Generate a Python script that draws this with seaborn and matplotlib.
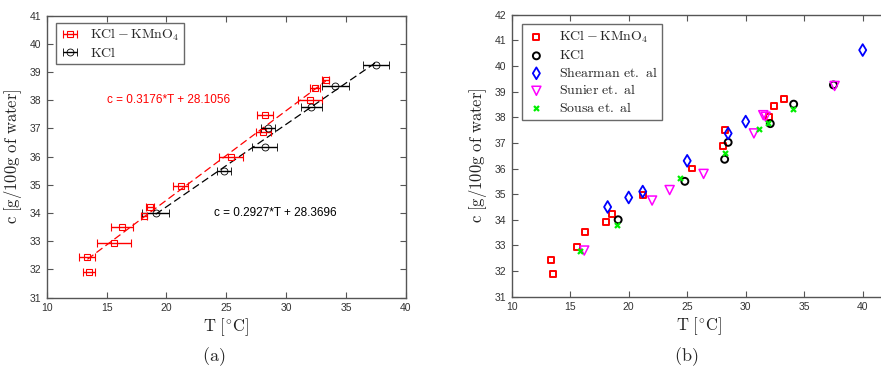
import numpy as np
import pandas as pd
import matplotlib
matplotlib.use("Agg")
import matplotlib.pyplot as plt
import seaborn as sns

# Solubility measurements: KCl in KMnO4 solution and pure KCl
kmno4_T = [13.4, 13.5, 15.6, 16.3, 18.1, 18.6, 21.2, 25.4, 28.1, 28.2, 32.0, 32.4, 33.3]
kmno4_c = [32.43, 31.90, 32.95, 33.52, 33.90, 34.22, 34.95, 36.00, 36.86, 37.49, 38.00, 38.42, 38.72]
kmno4_err = [0.67, 0.50, 1.40, 0.90, 0.25, 0.32, 0.63, 1.00, 0.60, 0.67, 1.00, 0.42, 0.28]

kcl_T = [19.1, 24.8, 28.2, 28.5, 32.1, 34.1, 37.5]
kcl_c = [34.00, 35.50, 36.36, 37.02, 37.75, 38.51, 39.26]
kcl_err = [1.10, 0.60, 1.07, 0.58, 0.86, 1.15, 1.08]

# Linear fits c = a*T + b
fit_kmno4 = (0.3176, 28.1056)
fit_kcl = (0.2927, 28.3696)

# Literature data
shearman_T = [18.2, 20.0, 21.2, 25.0, 28.5, 30.0, 40.0]
shearman_c = [34.50, 34.87, 35.10, 36.30, 37.37, 37.83, 40.62]

sunier_T = [16.2, 22.0, 23.5, 26.4, 30.7, 31.5, 31.7, 37.6]
sunier_c = [32.80, 34.75, 35.16, 35.79, 37.37, 38.08, 38.02, 39.22]

sousa_T = [15.85, 18.97, 24.35, 28.23, 31.13, 31.88, 34.07]
sousa_c = [32.80, 33.80, 35.62, 36.62, 37.54, 37.76, 38.31]

sns.set_theme(style="white")
plt.rcParams["font.family"] = ["Liberation Sans", "DejaVu Sans"]
plt.rcParams["mathtext.fontset"] = "cm"

RED, BLACK, BLUE, MAG, GREEN = "#ff0000", "#000000", "#0000ff", "#ff00ff", "#00ee00"
SPINE = "#555555"

fig = plt.figure(figsize=(8.81, 3.73), dpi=100)
ax1 = fig.add_axes([0.0530, 0.2019, 0.4078, 0.7560])
ax2 = fig.add_axes([0.5808, 0.2046, 0.4250, 0.7560])


def style_axes(ax, xlim, ylim, yticks, right=True):
    ax.set_xlim(*xlim)
    ax.set_ylim(*ylim)
    ax.set_xticks([10, 15, 20, 25, 30, 35, 40])
    ax.set_yticks(yticks)
    ax.tick_params(direction="in", length=4, width=0.8, colors=SPINE,
                   labelcolor="#333333", labelsize=7.5, top=True, right=right,
                   bottom=True, left=True, pad=4)
    for s in ax.spines.values():
        s.set_color(SPINE)
        s.set_linewidth(1.0)
    ax.set_xlabel(r"$\mathrm{T\ [^{\circ}C]}$", fontsize=12, color="#222222", labelpad=2)
    ax.set_ylabel(r"$\mathrm{c\ [g/100g\ of\ water]}$", fontsize=12, color="#222222", labelpad=4)


# (a) measurements with error bars and linear fits
ax1.errorbar(kmno4_T, kmno4_c, xerr=kmno4_err, fmt="s", color=RED, mfc="none",
             ms=4.5, mew=0.8, elinewidth=1.0, capsize=3, capthick=1.0,
             label=r"$\mathrm{KCl - KMnO_4}$", zorder=3)
ax1.errorbar(kcl_T, kcl_c, xerr=kcl_err, fmt="o", color=BLACK, mfc="none",
             ms=5, mew=0.6, elinewidth=1.0, capsize=3, capthick=1.0,
             label=r"$\mathrm{KCl}$", zorder=3)

fit_df1 = pd.DataFrame({"T": [min(kmno4_T), max(kmno4_T)]})
fit_df1["c"] = fit_kmno4[0] * fit_df1["T"] + fit_kmno4[1]
fit_df2 = pd.DataFrame({"T": [min(kcl_T), max(kcl_T)]})
fit_df2["c"] = fit_kcl[0] * fit_df2["T"] + fit_kcl[1]
sns.lineplot(data=fit_df1, x="T", y="c", ax=ax1, color=RED, lw=0.9,
             linestyle=(0, (6, 3)), zorder=2)
sns.lineplot(data=fit_df2, x="T", y="c", ax=ax1, color=BLACK, lw=0.9,
             linestyle=(0, (6, 3)), zorder=2)

ax1.text(15.0, 38.0, "c = %.4f*T + %.4f" % fit_kmno4, color=RED, fontsize=8.5,
         va="center", ha="left")
ax1.text(23.95, 34.0, "c = %.4f*T + %.4f" % fit_kcl, color=BLACK, fontsize=8.5,
         va="center", ha="left")

style_axes(ax1, (10, 40), (31, 41), range(31, 42))
h, l = ax1.get_legend_handles_labels()
h = [x for x in h if hasattr(x, "has_xerr")]
leg1 = ax1.legend(h, [r"$\mathrm{KCl - KMnO_4}$", r"$\mathrm{KCl}$"],
                  loc="upper left", bbox_to_anchor=(0.025, 0.975), fontsize=10,
                  frameon=True, fancybox=False, edgecolor="#444444",
                  borderpad=0.3, handlelength=1.4, handletextpad=0.8,
                  labelspacing=0.2, borderaxespad=0)
leg1.get_frame().set_linewidth(1.0)

# (b) comparison with literature values
series = [
    (kmno4_T, kmno4_c, r"$\mathrm{KCl - KMnO_4}$", RED, "s", 4.3, 1.4),
    (kcl_T, kcl_c, r"$\mathrm{KCl}$", BLACK, "o", 5.0, 1.4),
    (shearman_T, shearman_c, r"$\mathrm{Shearman\ et.\ al}$", BLUE, "d", 6.0, 1.3),
    (sunier_T, sunier_c, r"$\mathrm{Sunier\ et.\ al}$", MAG, "v", 6.5, 1.1),
    (sousa_T, sousa_c, r"$\mathrm{Sousa\ et.\ al}$", GREEN, "x", 3.6, 1.6),
]
for T, c, lab, col, mk, ms, mw in series:
    df = pd.DataFrame({"T": T, "c": c})
    if mk == "x":
        sns.scatterplot(data=df, x="T", y="c", ax=ax2, marker=mk, s=ms ** 2,
                        color=col, linewidth=mw, label=lab, zorder=4)
    else:
        sns.scatterplot(data=df, x="T", y="c", ax=ax2, marker=mk, s=ms ** 2,
                        facecolor="none", edgecolor=col, linewidth=mw,
                        label=lab, zorder=3)

style_axes(ax2, (10, 42), (31, 42), range(31, 43), right=False)
leg2 = ax2.legend(loc="upper left", bbox_to_anchor=(0.027, 0.968), fontsize=10,
                  frameon=True, fancybox=False, edgecolor="#444444",
                  borderpad=0.35, handlelength=1.4, handletextpad=0.9,
                  labelspacing=0.25, borderaxespad=0)
leg2.get_frame().set_linewidth(1.0)

fig.text(0.243, 0.045, r"$\mathrm{(a)}$", fontsize=13, ha="center", va="center")
fig.text(0.779, 0.045, r"$\mathrm{(b)}$", fontsize=13, ha="center", va="center")

fig.savefig("out.png", dpi=100)
